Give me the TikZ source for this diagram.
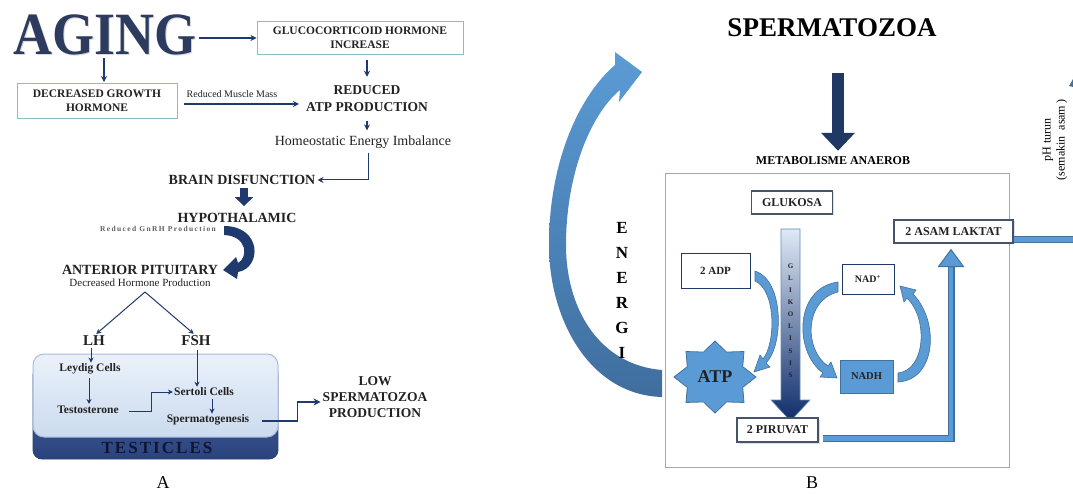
\documentclass[tikz,border=0pt]{standalone}
\usepackage{fontspec}
\setmainfont{Liberation Serif}
\usetikzlibrary{arrows.meta,shadows,calc}
\newcommand\fsz[2]{\fontsize{#1}{#2}\selectfont}
\definecolor{navy}{HTML}{1F3A6E}
\definecolor{dnavy}{HTML}{1F3864}
\definecolor{agingc}{HTML}{2C3B5E}
\definecolor{tealb}{HTML}{8DBCC6}
\definecolor{mblue}{HTML}{5B9BD5}
\definecolor{dblue}{HTML}{41719C}
\definecolor{boxb}{HTML}{8EAAD6}
\definecolor{slate}{HTML}{44546A}
\definecolor{tdarkA}{HTML}{4F6CB0}
\definecolor{tdarkB}{HTML}{2B437C}
\definecolor{tdarkE}{HTML}{2A3F75}
\definecolor{tlA}{HTML}{EAF1FA}
\definecolor{tlB}{HTML}{CCDBEF}
\definecolor{tlE}{HTML}{A9B9E0}
\definecolor{tdtext}{HTML}{0E1633}
\definecolor{glkA}{HTML}{DFE9F6}
\definecolor{glkB}{HTML}{5D8FCC}
\definecolor{glkC}{HTML}{0E2C69}
\definecolor{enA}{HTML}{5B9BD5}
\definecolor{enB}{HTML}{3F6E9E}
\definecolor{txt}{HTML}{222222}
\begin{document}
\begin{tikzpicture}[x=1pt,y=-1pt,
  narr/.style={draw=navy, line width=1.2pt, -{Stealth[length=6pt,width=6pt]}},
  narrs/.style={draw=navy, line width=1pt, -{Stealth[length=5pt,width=5pt]}},
  tbox/.style={draw=tealb, line width=1pt, fill=white, align=center, text=txt,
     font=\fsz{11.5}{13}\bfseries, inner sep=0pt},
  lbl/.style={align=center, inner sep=0pt, text=txt},
  rbox/.style={draw=slate, line width=1.3pt, fill=white, inner sep=0pt, text=txt,
     font=\fsz{12}{14}\bfseries, drop shadow={opacity=0.25,shadow xshift=1.5pt,shadow yshift=-1.5pt}},
  wbox/.style={draw=dnavy, line width=0.8pt, fill=white, inner sep=0pt, text=txt,
     font=\fsz{11}{13}\bfseries},
  curv/.style={fill=mblue, draw=dblue, line width=0.6pt}]
\useasboundingbox (0,0) rectangle (1073,494);
\fill[white] (0,0) rectangle (1073,494);

% ================= PANEL A =================
\node[font=\fsz{60}{60}\bfseries, text=gray!30, xscale=0.9, inner sep=0] (agingsh) at (106,36) {AGING};
\node[font=\fsz{60}{60}\bfseries, text=agingc, xscale=0.9, inner sep=0] (aging) at (105,35) {AGING};

\node[tbox, minimum width=206, minimum height=33] (gluc) at (360,38) {GLUCOCORTICOID HORMONE\\[1pt]INCREASE};
\node[tbox, minimum width=160, minimum height=35] (dgh) at (97,101) {DECREASED GROWTH\\[1pt]HORMONE};

\draw[narr, shorten <=2pt] ([yshift=-3pt]aging.east) -- ([yshift=-3pt]aging.east -| gluc.west);
\draw[narr, shorten <=3pt, shorten >=1pt] ([xshift=-1pt]aging.south) -- ([xshift=-1pt]aging.south |- dgh.north);

\node[lbl, font=\fsz{13.5}{17}\bfseries] (atp) at (367,99) {REDUCED\\ATP PRODUCTION};
\draw[narr, shorten <=5pt, shorten >=9pt] ([xshift=7pt]gluc.south) -- ([xshift=7pt]gluc.south |- atp.north);

\node[font=\fsz{10}{12}, inner sep=0, text=txt] (rmm) at (232,94) {Reduced Muscle Mass};
\draw[narr, shorten <=6pt, shorten >=7pt] ([yshift=-3pt]dgh.east) -- ([yshift=-3pt]dgh.east -| atp.west);

\node[lbl, font=\fsz{14}{16}] (hei) at (363,142) {Homeostatic Energy Imbalance};
\draw[narr, shorten <=9pt, shorten >=5pt] (atp.south) -- (atp.south |- hei.north);

\node[lbl, font=\fsz{14}{16}\bfseries] (brain) at (242,180) {BRAIN DISFUNCTION};
\draw[navy, line width=1pt, -{Stealth[length=6pt,width=6pt]}, shorten <=4pt, shorten >=2pt]
   ([xshift=5pt]hei.south) |- (brain.east);

\node[lbl, font=\fsz{14}{16}\bfseries] (hypo) at (237,218) {HYPOTHALAMIC};
\draw[navy, line width=8pt, -{Triangle[width=18pt,length=9pt]}, shorten <=3pt, shorten >=7pt]
   ([xshift=2pt]brain.south) -- ([xshift=2pt]brain.south |- hypo.north);

\node[font=\fsz{7.5}{9}\bfseries\addfontfeatures{LetterSpace=18}, text=gray!75!black, inner sep=0] (gnrh) at (158,229) {Reduced GnRH Production};

\node[lbl, font=\fsz{14}{16}\bfseries] (ant) at (140,270) {ANTERIOR PITUITARY};
\node[lbl, font=\fsz{11}{13}] (dhp) at (140,283) {Decreased Hormone Production};

% curved arrow hypothalamic -> anterior pituitary
\fill[navy] (224,226) .. controls (262,226) and (262,268) .. (238,272) -- (237,279) -- (223,270)
   -- (236,257) -- (238,263) .. controls (248,258) and (248,236) .. (224,235) -- cycle;

\node[lbl, font=\fsz{15}{17}\bfseries] (lh) at (94,341) {LH};
\node[lbl, font=\fsz{15}{17}\bfseries] (fsh) at (196,341) {FSH};
\coordinate (split) at (145,292);
\draw[narrs, shorten >=3pt] (split) -- (lh.north);
\draw[narrs, shorten >=3pt] (split) -- (fsh.north);

% testicles block
\draw[draw=tdarkE, line width=0.8pt, top color=tdarkA, bottom color=tdarkB, rounded corners=9pt] (33,366) rectangle (278,459);
\draw[draw=tlE, line width=1pt, top color=tlA, bottom color=tlB, rounded corners=11pt] (33,354) rectangle (278,437);
\node[font=\fsz{17}{18}\bfseries\addfontfeatures{LetterSpace=12}, text=tdtext, inner sep=0] (testi) at (157,448) {TESTICLES};

\node[lbl, font=\fsz{11.5}{13}\bfseries] (ley) at (90,369) {Leydig Cells};
\node[lbl, font=\fsz{11.5}{13}\bfseries] (tes) at (88,410) {Testosterone};
\node[lbl, font=\fsz{11.5}{13}\bfseries] (ser) at (204,392) {Sertoli Cells};
\node[lbl, font=\fsz{11.5}{13}\bfseries] (spg) at (208,420) {Spermatogenesis};

\draw[narrs, shorten <=2pt, shorten >=1pt] ([xshift=-3pt]lh.south) -- ([xshift=-3pt]lh.south |- ley.north);
\draw[narrs, shorten <=4pt, shorten >=2pt] ([xshift=-1pt]ley.south) -- ([xshift=-1pt]ley.south |- tes.north);
\draw[narrs, shorten <=4pt, shorten >=1pt] ([xshift=1pt]fsh.south) -- ([xshift=1pt]fsh.south |- ser.north);
\draw[narrs, shorten <=3pt, shorten >=1pt] ([xshift=8pt]ser.south) -- ([xshift=8pt]ser.south |- spg.north);
\draw[narrs] ([xshift=10pt,yshift=-1pt]tes.east) -| ([xshift=-22pt]ser.west) -- ([xshift=-1pt]ser.west);

\node[lbl, font=\fsz{13.5}{16}\bfseries] (low) at (375,397) {LOW\\SPERMATOZOA\\PRODUCTION};
\draw[navy, line width=1.5pt, -{Stealth[length=7pt,width=7pt]}] ([xshift=13pt,yshift=-1pt]spg.east) -| ([xshift=-25pt,yshift=-5pt]low.west) -- ([xshift=-2pt,yshift=-5pt]low.west);

\node[font=\fsz{18}{20}, inner sep=0] (la) at (163,483) {A};

% ================= PANEL B =================
\node[font=\fsz{27}{30}\bfseries, inner sep=0] (sperm) at (832,28) {SPERMATOZOA};
\node[font=\fsz{12}{14}\bfseries, inner sep=0] (meta) at (833,161) {METABOLISME ANAEROB};
\draw[dnavy, line width=12pt, -{Triangle[width=33pt,length=18pt]}]
   ([xshift=6pt,yshift=-36pt]sperm.south) -- ([xshift=5pt,yshift=6pt]meta.north);

\node[draw=boxb, line width=1pt, minimum width=344, minimum height=293, inner sep=0] (mbox) at (837,320.5) {};

% ENERGI arrow
\shade[top color=enA, bottom color=enB]
  (662,397) .. controls (590,395) and (549,320) .. (549,245)
  .. controls (549,160) and (580,95) .. (615,65)
  -- (615,52) -- (642,72) -- (619,102) -- (620,90)
  .. controls (590,115) and (566,175) .. (566,245)
  .. controls (566,310) and (600,365) .. (662,370) -- cycle;
\node[font=\fsz{17}{25}\bfseries, align=center, inner sep=0] (energi) at (622,290.5) {E\\N\\E\\R\\G\\I};

\node[rbox, minimum width=81, minimum height=23] (glu) at (792,202.5) {GLUKOSA};
\node[wbox, minimum width=69, minimum height=35] (adp) at (715.5,270.5) {2 ADP};
\node[wbox, minimum width=52, minimum height=30, font=\fsz{10}{12}\bfseries] (nad) at (868,279) {NAD\textsuperscript{+}};
\node[wbox, minimum width=53, minimum height=33, fill=mblue, draw=dblue, font=\fsz{10.5}{12}\bfseries] (nadh) at (866.5,376.5) {NADH};

% glikolisis arrow
\shadedraw[draw=dblue!80, line width=0.6pt, top color=glkA, middle color=glkB, bottom color=glkC]
  (781,229) -- (800,229) -- (800,400) -- (810,400) -- (790.5,421) -- (771,400) -- (781,400) -- cycle;
\node[font=\fontsize{7}{12.1}\selectfont\bfseries, align=center, inner sep=0, text=txt] (glik) at (790.5,320.5)
  {G\\L\\I\\K\\O\\L\\I\\S\\I\\S};

% ATP star
\filldraw[fill=mblue, draw=dblue, line width=0.8pt]
  plot[samples at={0,22.5,...,337.5}, variable=\t]
  ({715 + (41 - 11*mod(round(\t/22.5),2))*cos(\t)}, {377 + (36 - 9*mod(round(\t/22.5),2))*sin(\t)}) -- cycle;
\node[font=\fsz{18}{20}\bfseries, inner sep=0, text=txt] (atpn) at (715,377) {ATP};

% curved arrows
\filldraw[curv] (755,271) .. controls (784,280) and (784,345) .. (766,363) -- (770,367) -- (754,372)
   -- (760,355) -- (763,359) .. controls (776,343) and (776,290) .. (755,281) -- cycle;
\filldraw[curv] (838,282) .. controls (794,288) and (794,352) .. (823,373) -- (820,377) -- (837,378)
   -- (831,362) -- (828,366) .. controls (804,350) and (804,300) .. (838,292) -- cycle;
\filldraw[curv] (898,382) .. controls (936,380) and (940,322) .. (913,294) -- (916,290) -- (900,286)
   -- (904,302) -- (907,298) .. controls (928,318) and (926,370) .. (898,373) -- cycle;

\node[rbox, minimum width=81, minimum height=24] (piru) at (777.5,430) {2 PIRUVAT};
\node[rbox, minimum width=119, minimum height=23] (lak) at (953.5,231.5) {2 ASAM LAKTAT};

% piruvat -> laktat
\coordinate (lkb) at ([xshift=-2.5pt,yshift=-23pt]lak.south);
\coordinate (lkt) at ([xshift=-2.5pt,yshift=-6pt]lak.south);
\draw[dblue, line width=7pt] ([xshift=4pt,yshift=-8.5pt]piru.east) -| (lkb);
\draw[mblue, line width=4.4pt] ([xshift=4.8pt,yshift=-8.5pt]piru.east) -| (lkb);
\filldraw[fill=mblue, draw=dblue, line width=1pt] ([xshift=-12.5pt]lkb) -- (lkt) -- ([xshift=12.5pt]lkb) -- cycle;

% laktat -> out
\draw[dblue, line width=6.5pt] ([yshift=-8pt]lak.east) -- ++(70,0);
\draw[mblue, line width=4.2pt] ([yshift=-8pt,xshift=0.8pt]lak.east) -- ++(70,0);

\node[rotate=90, font=\fsz{12}{14}, align=center, inner sep=0] (ph) at (1055,140) {pH turun\\(semakin\enspace asam\,)};
\fill[dblue] (1069,86) -- (1073,79) -- (1073,87) -- cycle;

\node[font=\fsz{18}{20}, inner sep=0] (lb) at (812,483) {B};
\end{tikzpicture}
\end{document}
